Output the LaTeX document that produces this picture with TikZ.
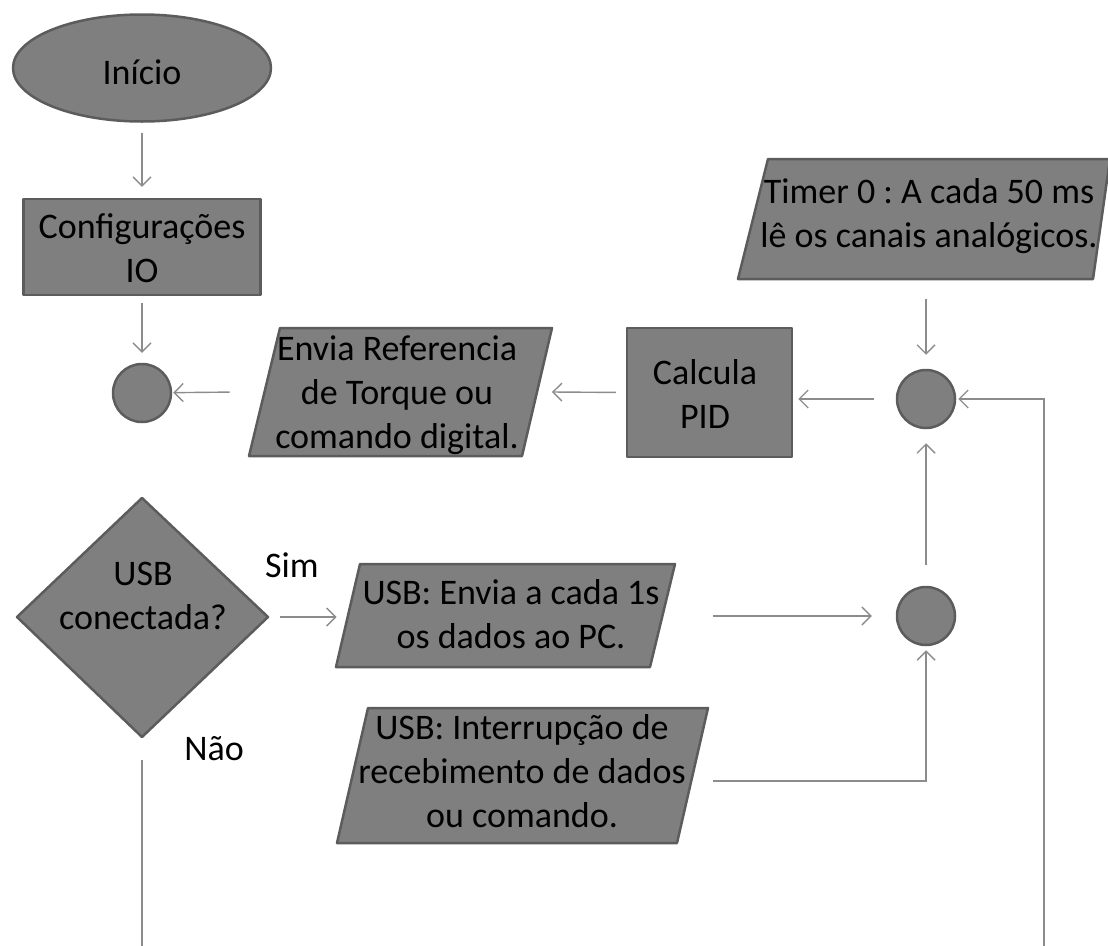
\documentclass[tikz,border=0pt]{standalone}
\usepackage{fontspec}
\setmainfont{Carlito}
\usetikzlibrary{arrows.meta,shapes.geometric}
\definecolor{boxgray}{HTML}{7F7F7F}
\definecolor{edgegray}{HTML}{5C5C5C}
\definecolor{linegray}{HTML}{8C8C8C}
\frenchspacing
\begin{document}
\begin{tikzpicture}[x=1pt,y=-1pt,
  box/.style={fill=boxgray,draw=edgegray,line width=2.5pt,line join=round},
  txt/.style={font=\fontsize{36}{44}\selectfont,align=center,text=black,inner sep=0pt},
  lbl/.style={font=\fontsize{36}{44}\selectfont,text=black,inner sep=0pt},
  ln/.style={draw=linegray,line width=1.4pt},
  arr/.style={ln,-{Straight Barb[length=9pt,width=18pt,line width=1.4pt]}}]
\useasboundingbox (0,0) rectangle (1108,945);

% Start ellipse
\node[box,ellipse,minimum width=258pt,minimum height=107pt,inner sep=0pt] (inicio) at (142,68) {};
\node[txt] at (142,72) {Início};

% Configurations
\node[box,rectangle,minimum width=237pt,minimum height=96pt,inner sep=0pt] (config) at (142,247) {};
\node[txt] at (142,248) {Configurações\\IO};

% Junction circles
\node[box,circle,minimum size=58pt,inner sep=0pt] (c1) at (142,393) {};
\node[box,circle,minimum size=58pt,inner sep=0pt] (c2) at (926,399) {};
\node[box,circle,minimum size=58pt,inner sep=0pt] (c3) at (926,616) {};

% PID
\node[box,rectangle,minimum width=165pt,minimum height=129pt,inner sep=0pt] (pid) at (709.5,392.5) {};
\node[txt] at (705,394) {Calcula\\PID};

% Envia Referencia (parallelogram)
\draw[box] (280,328) -- (552,328) -- (522,456) -- (249,456) -- cycle;
\node[txt,minimum width=272pt,minimum height=128pt] (envia) at (400.75,392) {};
\node[txt] at (397,395) {Envia Referencia\\de Torque ou\\comando digital.};

% Timer (parallelogram)
\draw[box] (768,159) -- (1110,159) -- (1093,279) -- (738,279) -- cycle;
\node[txt,minimum width=340pt,minimum height=120pt] (timer) at (926,219) {};
\node[txt] at (929,216) {Timer 0 : A cada 50 ms\\lê os canais analógicos.};

% Diamond
\draw[box] (142,498) -- (268,617) -- (142,737) -- (17,617) -- cycle;
\node[txt,minimum width=251pt,minimum height=239pt] (dia) at (142,617) {};
\node[txt] at (143,596) {USB\\conectada?};

% USB envia (parallelogram)
\draw[box] (360,564) -- (675,564) -- (650,667) -- (336,667) -- cycle;
\node[txt,minimum width=315pt,minimum height=103pt] (usb1) at (505.25,615.5) {};
\node[txt] at (511,614) {USB: Envia a cada 1s\\os dados ao PC.};

% USB interrupt (parallelogram)
\draw[box] (368,708) -- (708,708) -- (677,843) -- (337,843) -- cycle;
\node[txt,minimum width=340pt,minimum height=135pt] (usb2) at (522.5,775.5) {};
\node[txt] at (522,771) {USB: Interrupção de\\recebimento de dados\\ou comando.};

% Labels
\node[lbl] (sim) at (292,565) {Sim};
\node[lbl] (nao) at (214,749) {Não};

% Free ends at the bottom edge
\coordinate (bl) at (142,950);
\coordinate (br) at (1044,950);

% Connectors
\draw[arr,shorten <=10pt,shorten >=11pt] (inicio) -- (config);
\draw[arr,shorten <=7pt,shorten >=10pt] (config) -- (c1);
\draw[arr,shorten <=7pt,shorten >=1pt] ([xshift=-28pt]envia.west) -- (c1);
\draw[arr,shorten <=10pt] (pid.west) -- ([xshift=15pt]envia.east);
\draw[arr,shorten <=22pt,shorten >=5pt] (c2.west) -- (pid.east |- c2.west);
\draw[arr,shorten <=20pt,shorten >=14pt] (timer.south -| c2) -- (c2.north);
\draw[arr,shorten <=21pt,shorten >=14pt] (c3.north) -- (c2.south);
\draw[arr,shorten <=12pt,shorten >=11pt] (dia.east) -- (dia.east -| usb1.west);
\draw[arr,shorten >=24pt] ([xshift=50pt]usb1.east |- c3.west) -- (c3.west);
\draw[arr,shorten >=4pt] ([xshift=20pt,yshift=-5.5pt]usb2.east) -| (c3.south);
\draw[ln,shorten <=23pt] (dia.south) -- (bl);
\draw[arr,shorten >=2pt] (br) |- (c2.east);
\end{tikzpicture}
\end{document}
